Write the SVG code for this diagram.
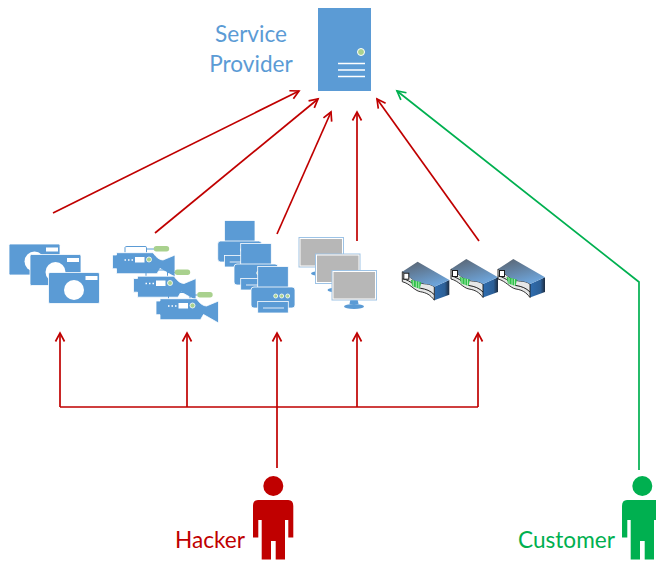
<svg xmlns="http://www.w3.org/2000/svg" width="656" height="561" viewBox="0 0 656 561">
<style>
.lbl{font-family:"Lato","Open Sans","Liberation Sans",sans-serif;font-size:22.600px}
.b{fill:#5b9bd5}.w{fill:#fff}.g{fill:#a9d18e}
.red{fill:none;stroke:#c00000;stroke-width:1.700}
.grn{fill:none;stroke:#00b050;stroke-width:1.700}
.ol{stroke:#fff;stroke-width:.8}
</style>
<defs>
<marker id="ar" markerUnits="userSpaceOnUse" markerWidth="14" markerHeight="14" refX="10" refY="6" orient="auto"><path d="M1.500,1.500 L10,6 L1.500,10.500" fill="none" stroke="#c00000" stroke-width="1.700"/></marker>
<marker id="ag" markerUnits="userSpaceOnUse" markerWidth="14" markerHeight="14" refX="10" refY="6" orient="auto"><path d="M1.500,1.500 L10,6 L1.500,10.500" fill="none" stroke="#00b050" stroke-width="1.700"/></marker>
<linearGradient id="top" x1="0" y1="0" x2=".5" y2="1"><stop offset="0" stop-color="#59616c"/><stop offset="1" stop-color="#6da3d8"/></linearGradient>
<linearGradient id="side" x1="0" y1="0" x2="1" y2="0"><stop offset="0" stop-color="#2f6db0"/><stop offset=".7" stop-color="#2c5f96"/><stop offset="1" stop-color="#1d2c40"/></linearGradient>
<g id="camera">
<rect width="51" height="31" rx="1.500" class="b ol"/>
<circle cx="25.500" cy="17.500" r="10" class="w"/>
<rect x="37" y="3.500" width="12" height="4" class="w"/>
</g>
<g id="video">
<path d="M13,6.700 V1.500 Q13,.5 15,.5 H33 Q34.500,.5 34.500,1.500 V6.700" fill="none" stroke="#5b9bd5" stroke-width="1"/>
<path d="M34.500,3 H42" stroke="#5b9bd5" stroke-width="1"/>
<rect x="41.700" y="0" width="15.500" height="5.500" rx="2.700" class="g"/>
<path d="M4.500,9 V6.700 H41 Q46,14 51,14 L63,9 V31 L48,22.500 L45,27.700 H4.500 V22.700 H.5 V9 Z" class="b ol"/>
<rect x="23" y="11" width="9.500" height="5.500" class="w"/>
<circle cx="37" cy="13.500" r="2.500" class="g ol"/>
<path d="M12.500,14 h1.500 M16,14 h1.500 M19.500,14 h1.500" stroke="#fff" stroke-width="1.300"/>
</g>
<g id="printer">
<rect x="6.700" y="0" width="30.600" height="22" class="b ol"/>
<rect x="0" y="20.500" width="44" height="21" rx="3" class="b ol"/>
<rect x="6.700" y="35" width="30.600" height="11.500" class="b ol"/>
<path d="M12,41.500 H33" stroke="#bcd5ee" stroke-width="1.400"/>
<circle cx="24.700" cy="29.500" r="2" class="g ol"/>
<circle cx="30.700" cy="29.500" r="2" class="g ol"/>
<circle cx="36.700" cy="29.500" r="2" class="g ol"/>
</g>
<g id="monitor">
<path d="M19,29 H26 L27,34 H18 Z" class="b"/>
<ellipse cx="22.500" cy="36.500" rx="10" ry="2.500" class="b"/>
<rect x=".5" y=".5" width="44.500" height="29.500" fill="#b7b7b7" stroke="#9dc3e6" stroke-width="1"/>
<rect x="1.500" y="1.500" width="42.500" height="27.500" fill="none" stroke="#fff" stroke-width="1"/>
</g>
<g id="device">
<path d="M32,25 L47,18.300 V33 L32,38.500 Z" fill="url(#side)"/>
<path d="M0,10 V20 C8,22 12,29 18,30 C24,31 28,33 32,38.500 V25 C26,21 22,23 17,21 C10,19 6,13 0,10 Z" fill="#e6e7e7" stroke="#1c1c1c" stroke-width=".9"/>
<path d="M.5,17 C9,19 13,25 18,26.500 C24,27.500 28,29 32,33" fill="none" stroke="#1c1c1c" stroke-width="1"/>
<path d="M0,10 L15.300,0 L47,18.300 L32,25 C26,21 22,23 17,21 C10,19 6,13 0,10 Z" fill="url(#top)"/>
<rect x="1.500" y="11.500" width="5" height="6" fill="#fff" stroke="#1c1c1c" stroke-width="1"/>
<path d="M8.500,18 L19,20.500 L17.500,27 L10,24.500 Z" fill="#2fc04a"/>
<path d="M11,19 V25 M14,19.500 V26 M16.500,20 V27" stroke="#c8f0c8" stroke-width=".8"/>
</g>
<g id="person">
<circle cx="20.300" cy="10" r="10"/>
<path d="M5,24 H35.300 Q40.300,24 40.300,30 V61.500 H35.300 V44 H32 V83.500 H22.700 V65 H18 V83.500 H8.700 V44 H5.300 V61.500 H0 V30 Q0,24 5,24 Z"/>
</g>
</defs>

<g id="connectors">
<path class="red" marker-end="url(#ar)" d="M53,213 L299,91"/>
<path class="red" marker-end="url(#ar)" d="M155,233 L318,99"/>
<path class="red" marker-end="url(#ar)" d="M277,234 L331,112"/>
<path class="red" marker-end="url(#ar)" d="M357,241 V112"/>
<path class="red" marker-end="url(#ar)" d="M479,241 L377,99"/>
<path class="grn" marker-end="url(#ag)" d="M639,470 V282 L397,91"/>
<path class="red" d="M277,468 V407 M60,407 H478"/>
<path class="red" marker-end="url(#ar)" d="M60,407 V333"/>
<path class="red" marker-end="url(#ar)" d="M187,407 V333"/>
<path class="red" marker-end="url(#ar)" d="M277,407 V333"/>
<path class="red" marker-end="url(#ar)" d="M357,407 V333"/>
<path class="red" marker-end="url(#ar)" d="M478,407 V333"/>
</g>

<g id="service-provider">
<rect x="318" y="8" width="53" height="83" class="b"/>
<circle cx="361" cy="52" r="3.500" class="g" stroke="#fff" stroke-width="1"/>
<path d="M338,63.500 H365 M338,70 H365 M338,76.500 H365" stroke="#fff" stroke-width="1.600"/>
<text class="lbl" x="251" y="42" text-anchor="middle" fill="#5b9bd5">Service</text>
<text class="lbl" x="251" y="72" text-anchor="middle" fill="#5b9bd5">Provider</text>
</g>
<g id="cameras">
<use href="#camera" x="9" y="244"/>
<use href="#camera" x="30" y="254.500"/>
<use href="#camera" x="48.500" y="272.500"/>
</g>
<g id="video-cameras">
<use href="#video" x="112" y="246"/>
<use href="#video" x="133" y="269.500"/>
<use href="#video" x="155.500" y="292"/>
</g>
<g id="printers">
<use href="#printer" x="217.700" y="220.500"/>
<use href="#printer" x="234" y="243.500"/>
<use href="#printer" x="251" y="266.500"/>
</g>
<g id="monitors">
<use href="#monitor" x="298.500" y="237"/>
<use href="#monitor" x="315" y="253.500"/>
<use href="#monitor" x="331.500" y="270"/>
</g>
<g id="devices">
<use href="#device" x="402.300" y="261.700"/>
<use href="#device" x="451" y="259"/>
<use href="#device" x="498" y="259"/>
</g>
<g id="hacker">
<use href="#person" x="253" y="476" fill="#c00000"/>
<text class="lbl" x="175" y="548" fill="#c00000">Hacker</text>
</g>
<g id="customer">
<use href="#person" x="622" y="476" fill="#00b050"/>
<text class="lbl" x="518" y="548" fill="#00b050">Customer</text>
</g>
</svg>
